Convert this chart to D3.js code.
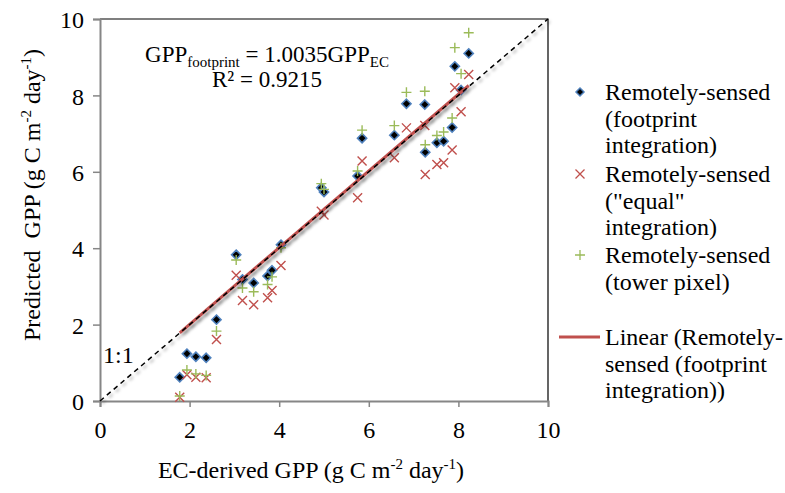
<!DOCTYPE html>
<html>
<head>
<meta charset="utf-8">
<script src="https://cdn.jsdelivr.net/npm/d3@7"></script>
<style>
  body { margin: 0; background: #fff; }
  svg text { font-family: "Liberation Serif", "DejaVu Serif", serif; }
</style>
</head>
<body>
<div id="chart"></div>
<script>
// EC-derived GPP (x), shared by all three series
var ecGpp = [1.78, 1.94, 2.14, 2.37, 2.60, 3.04, 3.18, 3.43, 3.74, 3.84, 4.04, 4.94, 5.00,
             5.75, 5.85, 6.57, 6.84, 7.25, 7.26, 7.52, 7.67, 7.86, 7.92, 8.06, 8.23];
// predicted GPP for each method
var footprint = [0.62, 1.24, 1.16, 1.13, 2.13, 3.83, 3.18, 3.09, 3.27, 3.42, 4.09, 5.58, 5.47,
                 5.89, 6.88, 6.96, 7.78, 7.76, 6.51, 6.76, 6.80, 7.16, 8.76, 8.14, 9.10];
var equalInt = [0.10, 0.69, 0.62, 0.61, 1.61, 3.29, 2.63, 2.52, 2.70, 2.89, 3.55, 4.97, 4.87,
                5.32, 6.28, 6.37, 7.15, 7.21, 5.93, 6.19, 6.24, 6.57, 8.20, 7.57, 8.55];
var towerPixel = [0.13, 0.81, 0.71, 0.67, 1.83, 3.69, 2.96, 2.86, 3.05, 3.25, 4.01, 5.69, 5.54,
                  6.02, 7.09, 7.21, 8.08, 8.11, 6.71, 6.95, 7.04, 7.41, 9.25, 8.57, 9.64];
var slope = 1.0035;
var r2 = 0.9215;
var tickValues = [0, 2, 4, 6, 8, 10];
var legendLabels = [
    ["Remotely-sensed", "(footprint", "integration)"],
    ["Remotely-sensed", "(\"equal\"", "integration)"],
    ["Remotely-sensed", "(tower pixel)"],
    ["Linear (Remotely-", "sensed (footprint", "integration))"]
];

var W = 785, H = 493;
var plot = {left: 100, right: 548, top: 19, bottom: 401};
var FONT = "Liberation Serif";

var svg = d3.select("#chart").append("svg")
    .attr("width", W)
    .attr("height", H)
    .attr("font-family", FONT);

// soft shadow used by the two lines
var defs = svg.append("defs");
defs.append("filter").attr("id", "shadow")
    .attr("x", "-10%").attr("y", "-10%").attr("width", "130%").attr("height", "130%")
    .append("feDropShadow")
    .attr("dx", 2).attr("dy", 2.5)
    .attr("stdDeviation", 1.5)
    .attr("flood-color", "#000")
    .attr("flood-opacity", 0.35);

var x = d3.scaleLinear().domain([0, 10]).range([plot.left, plot.right]);
var y = d3.scaleLinear().domain([0, 10]).range([plot.bottom, plot.top]);

// plot frame (top and right)
svg.append("path")
    .attr("d", "M" + plot.left + "," + plot.top + "H" + plot.right + "V" + plot.bottom)
    .attr("fill", "none")
    .attr("stroke", "#000")
    .attr("stroke-width", 1.2);

// axes
var xAxis = svg.append("g")
    .attr("transform", "translate(0," + plot.bottom + ")")
    .call(d3.axisBottom(x).tickValues(tickValues).tickSize(6).tickPadding(14));
var yAxis = svg.append("g")
    .attr("transform", "translate(" + plot.left + ",0)")
    .call(d3.axisLeft(y).tickValues(tickValues).tickSize(7).tickPadding(9));
[xAxis, yAxis].forEach(function (g) {
    g.attr("font-family", FONT).attr("font-size", 24);
    g.select(".domain").attr("stroke", "#868686").attr("stroke-width", 2);
    g.selectAll(".tick line").attr("stroke", "#868686").attr("stroke-width", 1.5);
    g.selectAll(".tick text").attr("fill", "#000");
});
yAxis.selectAll(".tick text").attr("dy", "0.36em");

var pts = function (ys) {
    return ecGpp.map(function (d, i) { return {x: d, y: ys[i]}; });
};

// footprint integration: diamonds
svg.append("g").selectAll("path")
    .data(pts(footprint)).enter().append("path")
    .attr("transform", function (d) { return "translate(" + x(d.x) + "," + y(d.y) + ")"; })
    .attr("d", "M0,-4.6L4.6,0L0,4.6L-4.6,0Z")
    .attr("fill", "#000")
    .attr("stroke", "#4F81BD")
    .attr("stroke-width", 1.6);

// "equal" integration: crosses
svg.append("g").selectAll("path")
    .data(pts(equalInt)).enter().append("path")
    .attr("transform", function (d) { return "translate(" + x(d.x) + "," + y(d.y) + ")"; })
    .attr("d", "M-4.5,-4.5L4.5,4.5M-4.5,4.5L4.5,-4.5")
    .attr("stroke", "#C0504D")
    .attr("stroke-width", 1.4);

// tower pixel: plus signs
svg.append("g").selectAll("path")
    .data(pts(towerPixel)).enter().append("path")
    .attr("transform", function (d) { return "translate(" + x(d.x) + "," + y(d.y) + ")"; })
    .attr("d", "M-5,0H5M0,-5V5")
    .attr("stroke", "#9BBB59")
    .attr("stroke-width", 1.4);

// linear trendline through origin
var xr = d3.extent(ecGpp);
svg.append("line")
    .attr("x1", x(xr[0])).attr("y1", y(slope * xr[0]))
    .attr("x2", x(xr[1])).attr("y2", y(slope * xr[1]))
    .attr("stroke", "#C0504D")
    .attr("stroke-width", 3)
    .attr("filter", "url(#shadow)");

// 1:1 line
svg.append("line")
    .attr("x1", x(0)).attr("y1", y(0))
    .attr("x2", x(10)).attr("y2", y(10))
    .attr("stroke", "#000")
    .attr("stroke-width", 1.5)
    .attr("stroke-dasharray", "5,4")
    .attr("filter", "url(#shadow)");

svg.append("text")
    .attr("x", 103).attr("y", 363)
    .attr("font-size", 24)
    .text("1:1");

// equation
var eq = svg.append("text")
    .attr("x", 267).attr("y", 62)
    .attr("text-anchor", "middle")
    .attr("font-size", 23);
eq.append("tspan").text("GPP");
eq.append("tspan").attr("font-size", 15).attr("dy", 5).text("footprint");
eq.append("tspan").attr("dy", -5).text(" = " + slope.toFixed(4) + "GPP");
eq.append("tspan").attr("font-size", 15).attr("dy", 5).text("EC");

svg.append("text")
    .attr("x", 267).attr("y", 87)
    .attr("text-anchor", "middle")
    .attr("font-size", 23)
    .text("R\u00B2 = " + r2);

// x axis title
var xt = svg.append("text")
    .attr("x", 311).attr("y", 478)
    .attr("text-anchor", "middle")
    .attr("font-size", 24);
xt.append("tspan").text("EC-derived GPP (g C m");
xt.append("tspan").attr("font-size", 15).attr("dy", -9).text("-2");
xt.append("tspan").attr("dy", 9).text(" day");
xt.append("tspan").attr("font-size", 15).attr("dy", -9).text("-1");
xt.append("tspan").attr("dy", 9).text(")");

// y axis title
var yt = svg.append("text")
    .attr("transform", "translate(40,195) rotate(-90)")
    .attr("text-anchor", "middle")
    .attr("font-size", 24);
yt.append("tspan").text("Predicted\u00A0 GPP (g C m");
yt.append("tspan").attr("font-size", 15).attr("dy", -9).text("-2");
yt.append("tspan").attr("dy", 9).text(" day");
yt.append("tspan").attr("font-size", 15).attr("dy", -9).text("-1");
yt.append("tspan").attr("dy", 9).text(")");

// legend
var legendY = [92, 174, 255, 337];
var lineH = 26.5;
var legend = svg.append("g");
legendLabels.forEach(function (lines, i) {
    var t = legend.append("text")
        .attr("x", 605).attr("y", legendY[i])
        .attr("font-size", 24);
    lines.forEach(function (s, j) {
        t.append("tspan").attr("x", 605).attr("dy", j === 0 ? "0.35em" : lineH).text(s);
    });
});
var lx = 580;
legend.append("path")
    .attr("transform", "translate(" + lx + "," + legendY[0] + ")")
    .attr("d", "M0,-4L4,0L0,4L-4,0Z")
    .attr("fill", "#000").attr("stroke", "#4F81BD").attr("stroke-width", 1.5);
legend.append("path")
    .attr("transform", "translate(" + lx + "," + legendY[1] + ")")
    .attr("d", "M-4.5,-4.5L4.5,4.5M-4.5,4.5L4.5,-4.5")
    .attr("stroke", "#C0504D").attr("stroke-width", 1.3);
legend.append("path")
    .attr("transform", "translate(" + lx + "," + legendY[2] + ")")
    .attr("d", "M-5,0H5M0,-5V5")
    .attr("stroke", "#9BBB59").attr("stroke-width", 1.3);
legend.append("line")
    .attr("x1", 559).attr("x2", 600)
    .attr("y1", legendY[3]).attr("y2", legendY[3])
    .attr("stroke", "#C0504D").attr("stroke-width", 3);
</script>
</body>
</html>
